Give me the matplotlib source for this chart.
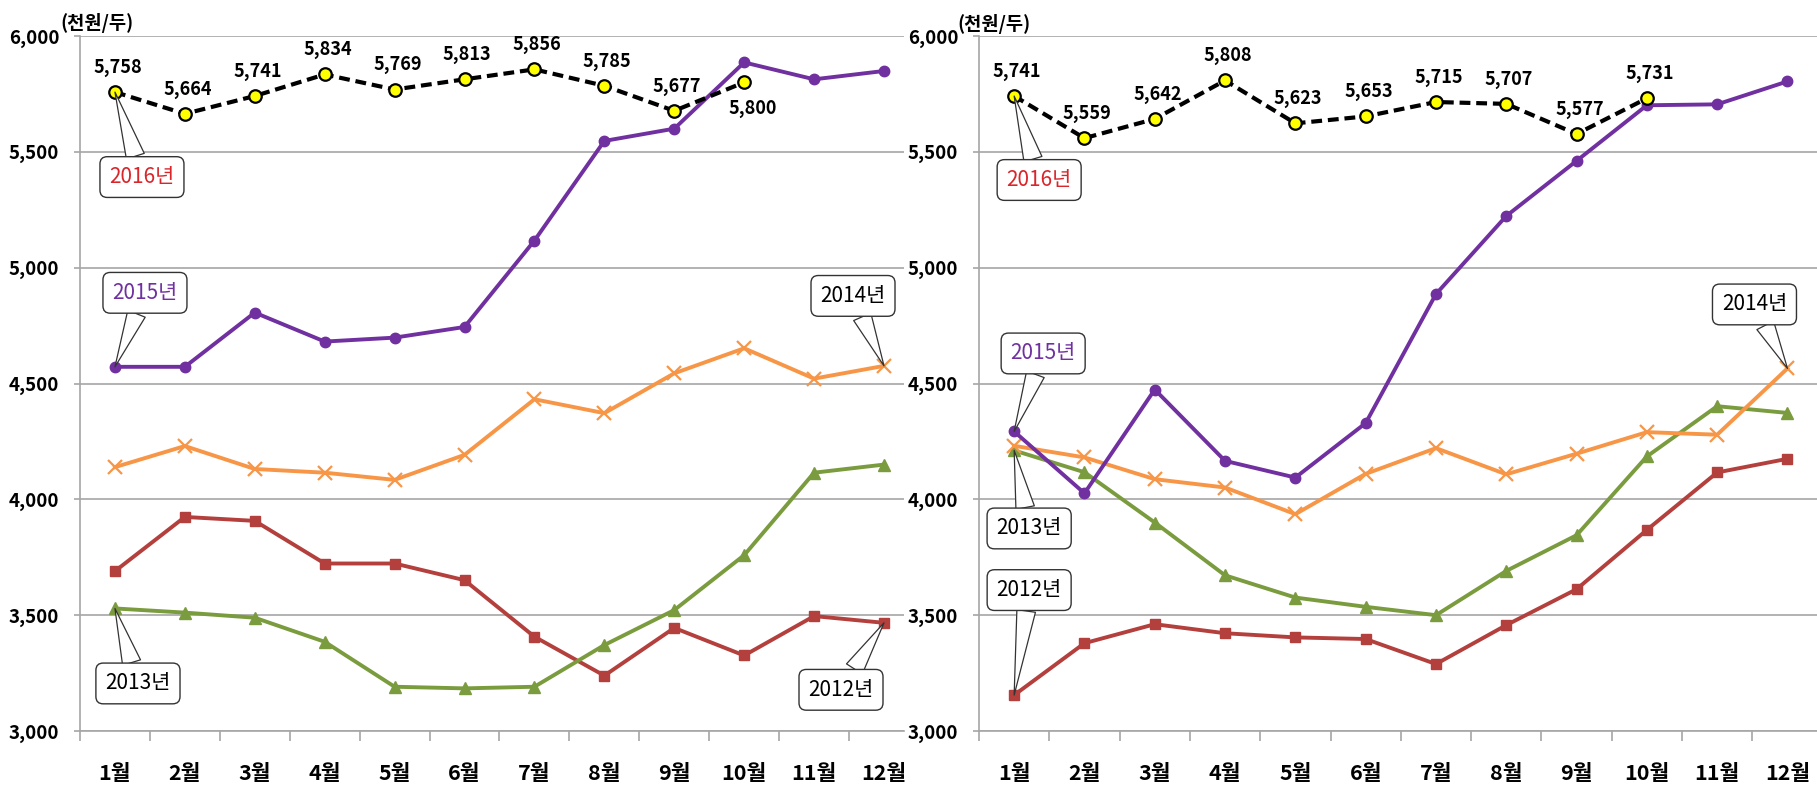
import matplotlib
matplotlib.use("Agg")  # headless
import matplotlib.pyplot as plt
import numpy as np

plt.rcParams["font.family"] = ["Noto Sans CJK KR", "DejaVu Sans"]

MONTHS = [f"{m}월" for m in range(1, 13)]
UNIT = "(천원/두)"

# left panel
L_2012 = [3690, 3924, 3907, 3723, 3723, 3651, 3407, 3239, 3445, 3326, 3496, 3467]
L_2013 = [3529, 3511, 3489, 3385, 3191, 3184, 3191, 3371, 3522, 3759, 4115, 4150]
L_2014 = [4139, 4230, 4131, 4115, 4084, 4192, 4432, 4372, 4544, 4652, 4521, 4576]
L_2015 = [4572, 4572, 4806, 4681, 4698, 4744, 5117, 5547, 5600, 5886, 5813, 5849]
L_2016 = [5758, 5664, 5741, 5834, 5769, 5813, 5856, 5785, 5677, 5800]

# right panel
R_2012 = [3155, 3379, 3461, 3422, 3404, 3397, 3289, 3457, 3612, 3868, 4116, 4175]
R_2013 = [4211, 4117, 3900, 3672, 3576, 3536, 3500, 3691, 3845, 4185, 4402, 4373]
R_2014 = [4231, 4181, 4087, 4051, 3936, 4110, 4221, 4108, 4197, 4290, 4279, 4565]
R_2015 = [4293, 4026, 4474, 4166, 4094, 4329, 4886, 5223, 5461, 5701, 5705, 5804]
R_2016 = [5741, 5559, 5642, 5808, 5623, 5653, 5715, 5707, 5577, 5731]

STYLE = {
    "2012": dict(color="#B3403D", marker="s", ms=7.5, lw=2.8, zorder=3),
    "2013": dict(color="#7A9C3E", marker="^", ms=8, lw=2.8, zorder=3),
    "2014": dict(color="#F79646", marker="x", ms=10, mew=1.6, lw=2.8, zorder=3),
    "2015": dict(color="#7030A0", marker="o", ms=7.5, lw=2.8, zorder=4),
}
TEXT_COLOR = {"2012": "black", "2013": "black", "2014": "black",
              "2015": "#7030A0", "2016": "#D9262B"}
GRID = "#A6A6A6"


def draw_panel(ax, series, callouts, below=()):
    x = np.arange(12)
    for year in ["2012", "2013", "2014", "2015"]:
        ax.plot(x, series[year], **STYLE[year])
    y16 = series["2016"]
    x16 = np.arange(len(y16))
    ax.plot(x16, y16, color="black", lw=3, ls=(0, (2.6, 1.4)), marker="o",
            ms=9, mfc="#FFFF00", mec="black", mew=1.6, zorder=5)
    for i, v in enumerate(y16):
        if i in below:
            off, va = (6, -12), "top"
        else:
            off, va = (2, 11), "bottom"
        ax.annotate(f"{v:,}", (i, v), xytext=off, textcoords="offset points",
                    ha="center", va=va, fontsize=13, fontweight="bold", zorder=6)

    for year, idx, dx, dy in callouts:
        ax.annotate(f"{year}년", (idx, series[year][idx]), xytext=(dx, dy),
                    textcoords="offset pixels", ha="center", va="center",
                    fontsize=15, color=TEXT_COLOR[year], zorder=7,
                    annotation_clip=False,
                    bbox=dict(boxstyle="round,pad=0.45,rounding_size=0.35",
                              fc="white", ec="#333333", lw=1.0),
                    arrowprops=dict(arrowstyle="wedge,tail_width=0.9,shrink_factor=0.5",
                                    fc="white", ec="#333333", lw=0.9,
                                    shrinkA=0, shrinkB=0))

    ax.set_ylim(3000, 6000)
    ax.set_yticks(np.arange(3000, 6001, 500))
    ax.set_yticklabels([f"{v:,}" for v in range(3000, 6001, 500)],
                       fontsize=13.5, fontweight="bold")
    ax.grid(axis="y", color=GRID, lw=1.2)
    ax.set_axisbelow(True)
    ax.set_xticks(np.arange(-0.5, 12, 1))
    ax.set_xticklabels([])
    ax.set_xticks(x, minor=True)
    ax.set_xticklabels(MONTHS, minor=True, fontsize=15.5, fontweight="bold")
    ax.tick_params(axis="x", which="major", length=7, color=GRID, width=1.2)
    ax.tick_params(axis="x", which="minor", length=0, pad=23)
    ax.tick_params(axis="y", length=4, color=GRID, width=1.2, pad=11)
    for s in ["top", "right"]:
        ax.spines[s].set_visible(False)
    for s in ["left", "bottom"]:
        ax.spines[s].set_color(GRID)
        ax.spines[s].set_linewidth(1.2)


fig = plt.figure(figsize=(18.17, 7.9), dpi=100)
ax1 = fig.add_axes([80 / 1817, 59 / 790, 824 / 1817, 695 / 790])
ax2 = fig.add_axes([979 / 1817, 59 / 790, 838 / 1817, 695 / 790])

draw_panel(ax1,
           {"2012": L_2012, "2013": L_2013, "2014": L_2014, "2015": L_2015, "2016": L_2016},
           [("2016", 0, 27, -85), ("2015", 0, 30, 74), ("2014", 11, -31, 70),
            ("2013", 0, 23, -75), ("2012", 11, -43, -67)],
           below=(9,))
ax1.set_xlim(-0.5, 11.286)

draw_panel(ax2,
           {"2012": R_2012, "2013": R_2013, "2014": R_2014, "2015": R_2015, "2016": R_2016},
           [("2016", 0, 25, -84), ("2015", 0, 29, 78), ("2013", 0, 15, -78),
            ("2012", 0, 15, 105), ("2014", 11, -33, 64)])
ax2.set_xlim(-0.5, 11.42)

fig.text(60 / 1817, 1 - 23 / 790, UNIT, fontsize=13.5, fontweight="bold", va="center")
fig.text(957 / 1817, 1 - 24 / 790, UNIT, fontsize=13.5, fontweight="bold", va="center")

fig.savefig("out.png", dpi=100)
